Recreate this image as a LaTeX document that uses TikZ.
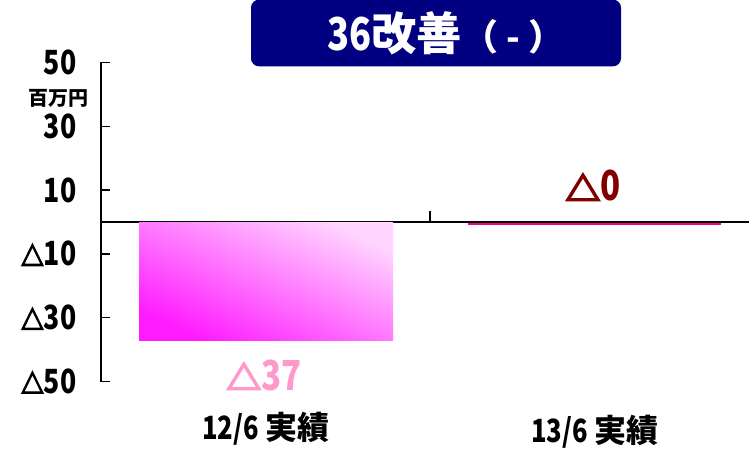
\documentclass[tikz,border=0pt]{standalone}
\usepackage{fontspec}
\setmainfont{Noto Sans CJK JP}
\newfontfamily\trifont{Noto Sans CJK JP}[FakeBold=5]
\usetikzlibrary{positioning}
\definecolor{titlenavy}{HTML}{000080}
\definecolor{bardark}{HTML}{FF1AFF}
\definecolor{barlight}{HTML}{FFD4FF}
\definecolor{minuspink}{HTML}{FF99CC}
\definecolor{zerored}{HTML}{800000}
\newcommand{\slim}[1]{\scalebox{0.8}[1]{#1}}
\newcommand{\tri}{\scalebox{0.85}[0.8]{\trifont\bfseries △}}
\tikzstyle{axisline} = [line width=1.1pt]
\tikzstyle{ticklabel} = [anchor=east, inner sep=0pt, font=\bfseries\fontsize{25}{25}\selectfont]
\tikzstyle{catlabel} = [inner sep=0pt, font=\bfseries\fontsize{24}{24}\selectfont]
\tikzstyle{valuelabel} = [inner sep=0pt, font=\bfseries\fontsize{31}{31}\selectfont]

\begin{document}
\begin{tikzpicture}[x=0.75pt,y=0.75pt]
    \useasboundingbox (0,0) rectangle (749,449);
    % title
    \node (title) [fill=titlenavy, rounded corners=6pt, minimum width=277.5pt, minimum height=50pt,
        text=white, inner sep=0pt] at (436,416)
        {\hspace*{15pt}\bfseries\fontsize{34}{34}\selectfont\slim{36}改善{\fontsize{27}{27}\selectfont （ - ）}};
    % axes
    \draw[axisline] (101,67) -- (101,387);
    \draw[axisline] (101,227) -- (749,227);
    \draw[axisline] (430,227) -- (430,238);
    \foreach \v/\txt in {50/50,30/30,10/10,-10/\tri10,-30/\tri30,-50/\tri50}
        \draw[axisline] (101,{227+3.19*\v}) -- (110,{227+3.19*\v})
            node[ticklabel] at (77,{227+3.19*\v}) {\slim{\txt}};
    \node (unit) [inner sep=0pt, font=\fontsize{15}{15}\selectfont\bfseries] at (58,351) {百万円};
    % bars
    \shade[shading=axis, bottom color=bardark, top color=barlight, shading angle=-25]
        (139,108) rectangle (393,226);
    \fill[magenta] (468,223.5) rectangle (721,225.5);
    % values
    \node (val12) [valuelabel, text=minuspink] at (264,74) {\tri\slim{37}};
    \node (val13) [valuelabel, text=zerored] at (593,263) {\tri\slim{0}};
    % categories
    \node (cat12) [catlabel] at (266,20) {\slim{12/6} 実績};
    \node (cat13) [catlabel] at (595,17) {\slim{13/6} 実績};
\end{tikzpicture}
\end{document}
